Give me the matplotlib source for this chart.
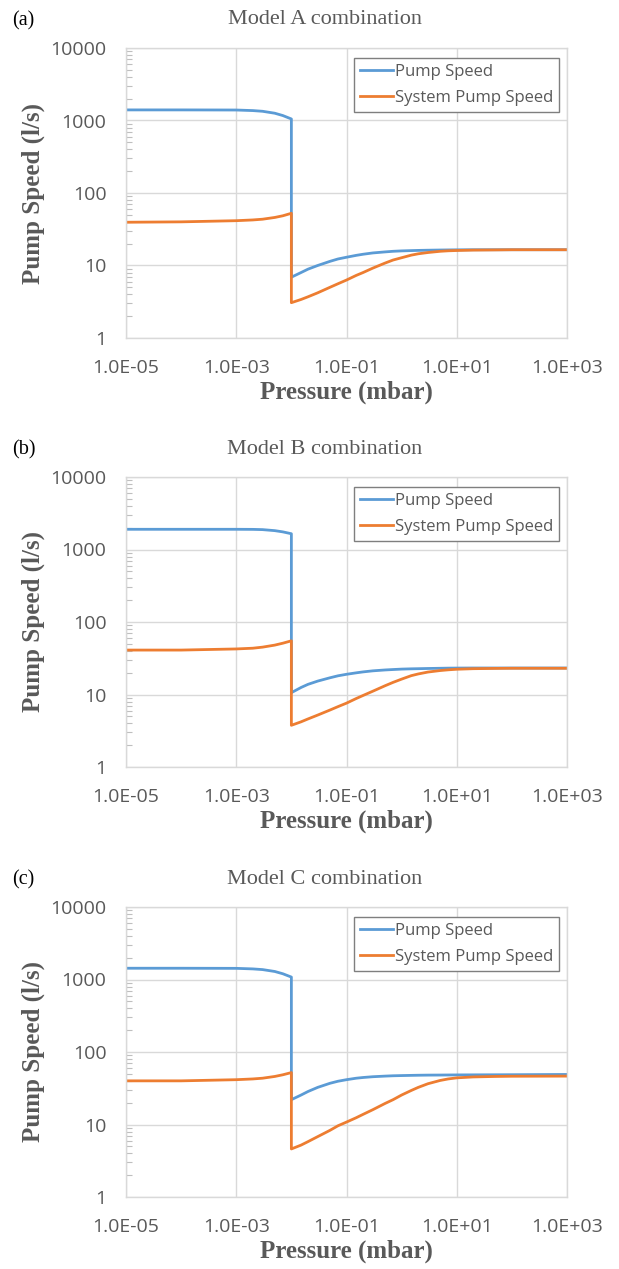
import matplotlib
matplotlib.use("Agg")
import matplotlib.pyplot as plt
from matplotlib.ticker import LogLocator, FixedLocator, FixedFormatter, NullFormatter

# pressure (mbar); 1e-2 repeated for the vertical drop
pressure = [1e-5, 1e-4, 1e-3, 2e-3, 3e-3, 5e-3, 7e-3, 1e-2,
            1e-2, 1.5e-2, 2e-2, 3e-2, 5e-2, 7e-2, 0.1, 0.15, 0.2, 0.3, 0.5, 0.7,
            1, 1.5, 2, 3, 5, 7, 10, 20, 50, 100, 1000]

pump_a = [1400, 1400, 1395, 1370, 1340, 1260, 1170, 1050,
          6.9, 8.0, 8.9, 10.0, 11.4, 12.3, 13.0, 13.8, 14.3, 14.9, 15.4, 15.7,
          15.9, 16.05, 16.15, 16.25, 16.35, 16.4, 16.45, 16.5, 16.5, 16.5, 16.5]
system_a = [39.5, 40, 41.5, 42.5, 43.5, 46, 48.5, 52.5,
            3.07, 3.4, 3.7, 4.2, 5.0, 5.6, 6.3, 7.3, 8.0, 9.2, 10.8, 11.9,
            12.8, 13.9, 14.5, 15.1, 15.7, 15.95, 16.1, 16.3, 16.4, 16.5, 16.5]

pump_b = [1900, 1900, 1900, 1895, 1880, 1820, 1750, 1650,
          10.6, 12.5, 13.8, 15.3, 17.0, 18.1, 19.0, 19.9, 20.5, 21.2, 21.8, 22.1,
          22.4, 22.6, 22.7, 22.85, 23.0, 23.1, 23.15, 23.2, 23.2, 23.2, 23.2]
system_b = [41, 41, 42.5, 43.5, 45, 48, 51, 55,
            3.76, 4.2, 4.6, 5.2, 6.1, 6.8, 7.6, 8.8, 9.7, 11.1, 13.2, 14.7,
            16.3, 18.2, 19.2, 20.4, 21.4, 21.9, 22.3, 22.7, 22.9, 23.0, 23.0]

pump_c = [1430, 1430, 1425, 1400, 1370, 1290, 1200, 1080,
          22, 25.5, 28.5, 32.5, 37, 39.5, 41.5, 43.5, 44.5, 45.6, 46.5, 47,
          47.3, 47.6, 47.8, 48, 48.1, 48.2, 48.3, 48.4, 48.5, 48.6, 49]
system_c = [40, 40, 41.5, 42.5, 43.5, 46, 48.5, 52,
            4.6, 5.2, 5.8, 6.8, 8.3, 9.6, 10.8, 12.4, 13.8, 16, 19.5, 22,
            25.5, 29.5, 32.5, 36.5, 40.5, 42.5, 44, 45.3, 46, 46.3, 46.5]

panels = [("(a)", "Model A combination", pump_a, system_a),
          ("(b)", "Model B combination", pump_b, system_b),
          ("(c)", "Model C combination", pump_c, system_c)]

x_ticks = [1e-5, 1e-3, 1e-1, 1e1, 1e3]
x_labels = ["1.0E-05", "1.0E-03", "1.0E-01", "1.0E+01", "1.0E+03"]
y_ticks = [1, 10, 100, 1000, 10000]
y_labels = ["1", "10", "100", "1000", "10000"]

BLUE = "#5B9BD5"
ORANGE = "#ED7D31"
GRID = "#D9D9D9"
TXT = "#595959"
SERIF = "Liberation Serif"
SANS = "Open Sans"

W, H = 619, 1269
fig = plt.figure(figsize=(W / 100, H / 100), dpi=100)

tops = [48, 477, 907]
left, right = 126, 567
ax_h = 290

for i, (tag, title, pump, system) in enumerate(panels):
    top = tops[i]
    ax = fig.add_axes([left / W, 1 - (top + ax_h) / H, (right - left) / W, ax_h / H])
    ax.plot(pressure, pump, color=BLUE, lw=2, label="Pump Speed")
    ax.plot(pressure, system, color=ORANGE, lw=2, label="System Pump Speed")
    ax.set_xscale("log")
    ax.set_yscale("log")
    ax.set_xlim(1e-5, 1e3)
    ax.set_ylim(1, 10000)

    ax.xaxis.set_major_locator(FixedLocator(x_ticks))
    ax.xaxis.set_major_formatter(FixedFormatter(x_labels))
    ax.xaxis.set_minor_locator(FixedLocator([]))
    ax.yaxis.set_major_locator(FixedLocator(y_ticks))
    ax.yaxis.set_major_formatter(FixedFormatter(y_labels))
    ax.yaxis.set_minor_locator(LogLocator(base=10, subs=range(2, 10)))
    ax.yaxis.set_minor_formatter(NullFormatter())

    ax.tick_params(axis="both", which="major", length=0, labelsize=14, labelcolor=TXT)
    ax.tick_params(axis="y", which="major", pad=14)
    ax.tick_params(axis="x", which="major", pad=15)
    ax.tick_params(axis="y", which="minor", direction="in", length=4, width=0.8, color="#BFBFBF")
    for lab in ax.get_xticklabels() + ax.get_yticklabels():
        lab.set_fontfamily(SANS)

    ax.grid(True, which="major", color=GRID, lw=1)
    ax.set_axisbelow(True)
    for s in ax.spines.values():
        s.set_color(GRID)
        s.set_linewidth(1)

    ax.set_ylabel("Pump Speed (l/s)", fontfamily=SERIF, fontweight="bold", fontsize=18,
                  color=TXT, labelpad=4)
    ax.set_xlabel("Pressure (mbar)", fontfamily=SERIF, fontweight="bold", fontsize=18,
                  color=TXT, labelpad=3)

    fig.text(325 / W, 1 - (top - 28) / H, title, ha="center", va="center",
             fontfamily=SERIF, fontsize=16, color=TXT)
    fig.text(12 / W, 1 - (top - 27) / H, tag, ha="left", va="center",
             fontfamily=SERIF, fontsize=14.5, color="black")

    leg = ax.legend(loc="upper right", bbox_to_anchor=(1 - 8 / 441, 1 - 10 / 290),
                    borderaxespad=0, fancybox=False, framealpha=1, edgecolor="#7F7F7F",
                    prop={"family": SANS, "size": 12}, handlelength=2.0,
                    handletextpad=0.1, labelspacing=0.62, borderpad=0.35)
    leg.get_frame().set_linewidth(1)
    for t in leg.get_texts():
        t.set_color(TXT)

fig.savefig("out.png", dpi=100)
